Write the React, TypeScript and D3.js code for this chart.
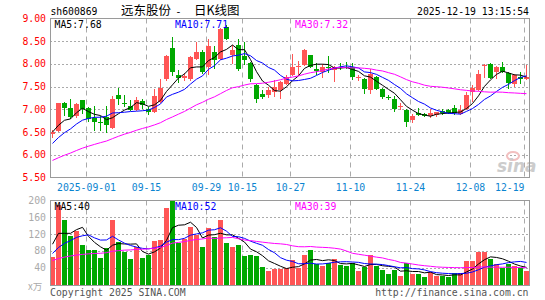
import React, { useEffect, useRef } from 'react';
import * as d3 from 'd3';

// daily k-line, 2025-08-22 .. 2025-12-19
const opens = [6.46,6.52,7.15,7.02,6.85,7.20,7.03,6.81,6.72,6.83, 6.58,7.31,7.14,7.07,6.98,7.19,7.01,6.95,7.16,7.66,
  8.35,7.75,7.68,7.66,8.11,8.26,7.93,8.27,8.11,8.81, 8.19,8.41,8.17,8.03,7.54,7.34,7.31,7.38,7.42,7.56,
  7.76,7.94,7.98,8.19,7.89,7.82,7.94,7.86,7.94,7.94, 7.93,7.69,7.67,7.42,7.71,7.44,7.28,7.22,7.05,6.98,
  6.76,6.93,6.90,6.85,6.88,6.96,6.98,7.03,6.90,7.01, 7.38,7.42,7.95,8.00,7.82,7.93,7.81,7.56,7.71,7.67];
const highs = [6.55,7.15,7.16,7.22,7.14,7.21,7.05,7.07,6.85,7.07, 7.29,7.47,7.31,7.20,7.28,7.22,7.06,7.45,7.67,8.20,
  8.60,7.86,7.80,8.18,8.48,8.30,8.55,8.39,8.78,8.86, 8.41,8.54,8.48,8.05,7.56,7.42,7.49,7.64,7.62,7.75,
  8.22,8.07,8.33,8.20,8.03,8.00,8.17,7.95,8.02,8.05, 8.03,7.76,7.69,7.89,7.73,7.46,7.31,7.29,7.15,7.00,
  6.90,7.03,6.92,7.01,6.95,7.01,7.00,7.10,7.10,7.38, 7.53,7.86,8.00,8.01,7.95,8.04,7.82,7.78,7.82,7.97];
const lows = [6.36,6.50,6.85,6.79,6.82,6.90,6.72,6.52,6.52,6.47, 6.56,7.09,7.05,6.97,6.96,7.01,6.87,6.92,7.14,7.62,
  7.74,7.59,7.62,7.62,8.08,7.78,7.75,7.89,8.08,8.52, 8.00,7.85,7.98,7.60,7.15,7.22,7.25,7.27,7.23,7.54,
  7.74,7.75,7.96,7.91,7.75,7.68,7.79,7.60,7.86,7.88, 7.64,7.63,7.34,7.34,7.42,7.23,7.20,6.94,6.98,6.61,
  6.71,6.85,6.84,6.80,6.83,6.87,6.90,6.87,6.87,6.99, 7.16,7.40,7.69,7.67,7.67,7.80,7.45,7.49,7.56,7.65];
const closes = [6.51,7.15,7.02,6.83,7.12,7.00,6.78,6.72,6.70,6.66, 7.22,7.22,7.12,6.98,7.20,7.09,6.94,7.29,7.47,8.18,
  7.82,7.69,7.74,8.15,8.27,7.82,8.39,8.08,8.76,8.55, 8.30,7.88,8.08,7.67,7.22,7.27,7.42,7.49,7.60,7.71,
  7.93,7.96,8.31,7.93,7.84,7.93,7.92,7.93,7.92,7.91, 7.71,7.71,7.44,7.78,7.45,7.27,7.26,7.01,7.07,6.72,
  6.85,6.88,6.86,6.93,6.94,6.93,6.93,6.93,6.98,7.32, 7.48,7.78,7.97,7.69,7.93,7.83,7.59,7.76,7.66,7.71];
// volume in 万 shares
const volumes = [66,190,154,116,128,94,82,82,63,87, 154,102,77,61,90,63,71,104,106,182,
  215,100,109,137,119,89,135,114,154,100, 89,94,69,70,68,42,33,37,37,40,
  58,40,70,82,48,44,50,61,46,44, 50,32,42,70,45,34,25,34,20,50,
  25,25,18,29,20,21,18,27,27,56, 56,78,78,61,49,40,49,44,38,32];

// 29 sessions before the window, only used so the averages start at the left edge
const prevCloses = [5.35,5.38,5.40,5.42,5.45,5.50,5.52,5.55,5.60,5.62,5.68,5.72,5.78,5.82,5.88,5.92,5.98,6.02,6.08,6.10,
  5.85,5.95,6.00,6.05,6.15, 6.40,6.47,6.68,6.44];
const prevVolumes = [45,52,38,60,47,42,55,50,44,48,62,40,46,53,49,44,51,58,43,43,
  48,55,50,52,55, 60,154,116,84];

const maPeriods = [5, 10, 30];
const maColors = ['#000000', '#0000ff', '#ff00ff'];
const priceLegend = ['MA5:7.68', 'MA10:7.71', 'MA30:7.32'];
const volLegend = ['MA5:40', 'MA10:52', 'MA30:39'];

const priceTicks = [5.5, 6.0, 6.5, 7.0, 7.5, 8.0, 8.5, 9.0];
const volTicks = [40, 80, 120, 160, 200];
const tickIdx = [6, 16, 26, 32, 40, 50, 60, 70, 79];
const tickText = ['2025-09-01', '09-15', '09-29', '10-15', '10-27', '11-10', '11-24', '12-08', '12-19'];

const stockCode = 'sh600869';
const stockName = '远东股份';
const chartName = '日K线图';
const stamp = '2025-12-19 13:15:54';

const RED = '#ff5555';
const GREEN = '#00a800';
const GRID = '#aaaaaa';
const FRAME = '#9a9a9a';
const MONO = '"DejaVu Sans Mono", monospace';

function movingAvg(prev: number[], vals: number[], n: number) {
  const all = prev.concat(vals);
  const off = prev.length;
  return vals.map((_, i) => d3.mean(all.slice(off + i - n + 1, off + i + 1)) as number);
}

export default function App() {
  const ref = useRef<SVGSVGElement>(null);

  useEffect(() => {
    const svg = d3.select(ref.current);
    svg.selectAll('*').remove();

    const L = 50, R = 530;
    const pTop = 18.5, pBot = 177.5;
    const vTop = 200.5, vBot = 285.5;

    const x = d3.scaleLinear().domain([0, closes.length]).range([L, R]);
    const yP = d3.scaleLinear().domain([5.5, 9]).range([pBot, pTop]);
    const yV = d3.scaleLinear().domain([0, 200]).range([284.4, 200.7]);
    const crisp = (v: number) => Math.round(v) + 0.5;

    svg.append('rect').attr('width', 545).attr('height', 300).attr('fill', '#fff');

    const defs = svg.append('defs');
    defs.append('clipPath').attr('id', 'clipP')
      .append('rect').attr('x', L).attr('y', pTop).attr('width', R - L).attr('height', pBot - pTop);
    defs.append('clipPath').attr('id', 'clipV')
      .append('rect').attr('x', L).attr('y', vTop).attr('width', R - L).attr('height', vBot - vTop);

    // header
    const head = svg.append('g').attr('font-size', 10.5).attr('fill', '#000');
    head.append('text').attr('x', 50.5).attr('y', 14.5).attr('font-family', MONO)
      .attr('textLength', 47).attr('lengthAdjust', 'spacingAndGlyphs').text(stockCode);
    head.append('text').attr('x', 121).attr('y', 15).attr('font-family', '"Noto Sans CJK SC"')
      .attr('font-size', 12.5).text(stockName);
    head.append('text').attr('x', 178.5).attr('y', 14.5).attr('text-anchor', 'middle')
      .attr('font-family', MONO).text('-');
    head.append('text').attr('x', 194).attr('y', 15).attr('font-family', '"Noto Sans CJK SC"')
      .attr('font-size', 12.5).text(chartName);
    head.append('text').attr('x', 529).attr('y', 14.5).attr('text-anchor', 'end').attr('font-family', MONO)
      .attr('textLength', 112).attr('lengthAdjust', 'spacingAndGlyphs').text(stamp);

    // grids
    const grid = svg.append('g').attr('stroke', GRID).attr('fill', 'none');
    priceTicks.slice(1, -1).forEach(v => {
      grid.append('line').attr('x1', L).attr('x2', R).attr('y1', crisp(yP(v))).attr('y2', crisp(yP(v)))
        .attr('stroke-dasharray', '2,2');
    });
    volTicks.slice(0, -1).forEach(v => {
      grid.append('line').attr('x1', L).attr('x2', R).attr('y1', crisp(yV(v))).attr('y2', crisp(yV(v)))
        .attr('stroke-dasharray', '2,2');
    });
    tickIdx.forEach(i => {
      const gx = x(i) + 0.5;
      grid.append('line').attr('x1', gx).attr('x2', gx).attr('y1', pTop).attr('y2', pBot)
        .attr('stroke-dasharray', '5,4');
      grid.append('line').attr('x1', gx).attr('x2', gx).attr('y1', vTop).attr('y2', vBot)
        .attr('stroke-dasharray', '5,4');
    });

    // sina watermark
    const wm = svg.append('g');
    wm.append('ellipse').attr('cx', 513).attr('cy', 156).attr('rx', 6).attr('ry', 4)
      .attr('fill', 'none').attr('stroke', '#f2c0c0').attr('stroke-width', 2);
    wm.append('text').attr('x', 497).attr('y', 172).attr('font-family', '"DejaVu Sans"')
      .attr('font-style', 'italic').attr('font-weight', 'bold').attr('font-size', 17)
      .attr('fill', '#cccccc').text('sina');

    const idx = d3.range(closes.length);
    const up = (i: number) => closes[i] >= opens[i];

    // candles
    const cg = svg.append('g').attr('clip-path', 'url(#clipP)');
    cg.selectAll('line.wick').data(idx).enter().append('line')
      .attr('x1', i => x(i) + 2.5).attr('x2', i => x(i) + 2.5)
      .attr('y1', i => Math.round(yP(highs[i]))).attr('y2', i => Math.round(yP(lows[i])))
      .attr('stroke', i => up(i) ? RED : GREEN);
    cg.selectAll('rect.body').data(idx).enter().append('rect')
      .attr('x', i => x(i))
      .attr('y', i => Math.round(yP(Math.max(opens[i], closes[i]))))
      .attr('width', 5)
      .attr('height', i => Math.max(1, Math.round(yP(Math.min(opens[i], closes[i]))) - Math.round(yP(Math.max(opens[i], closes[i])))))
      .attr('fill', i => up(i) ? RED : GREEN);

    // volume bars
    const vg = svg.append('g').attr('clip-path', 'url(#clipV)');
    vg.selectAll('rect').data(idx).enter().append('rect')
      .attr('x', i => x(i))
      .attr('y', i => Math.round(yV(volumes[i])))
      .attr('width', 5)
      .attr('height', i => vBot + 0.5 - Math.round(yV(volumes[i])))
      .attr('fill', i => up(i) ? RED : GREEN);

    // moving averages
    maPeriods.forEach((n, k) => {
      const pm = movingAvg(prevCloses, closes, n);
      const vm = movingAvg(prevVolumes, volumes, n);
      cg.append('path').datum(pm)
        .attr('d', d3.line<number>().x((_, i) => x(i) + 2.5).y(d => yP(d)))
        .attr('fill', 'none').attr('stroke', maColors[k]).attr('stroke-width', 1);
      vg.append('path').datum(vm)
        .attr('d', d3.line<number>().x((_, i) => x(i) + 2.5).y(d => yV(d)))
        .attr('fill', 'none').attr('stroke', maColors[k]).attr('stroke-width', 1);
    });

    // frames
    svg.append('rect').attr('x', L + 0.5).attr('y', pTop).attr('width', R - L - 1).attr('height', pBot - pTop)
      .attr('fill', 'none').attr('stroke', FRAME);
    svg.append('rect').attr('x', L + 0.5).attr('y', vTop).attr('width', R - L - 1).attr('height', vBot - vTop)
      .attr('fill', 'none').attr('stroke', FRAME);

    // legends
    const legX = [54.5, 175, 295];
    const lg = svg.append('g').attr('font-family', MONO).attr('font-size', 9.8);
    priceLegend.forEach((t, k) => {
      lg.append('text').attr('x', legX[k]).attr('y', 27.5).attr('fill', maColors[k]).text(t);
    });
    volLegend.forEach((t, k) => {
      lg.append('text').attr('x', legX[k]).attr('y', 209.5).attr('fill', maColors[k]).text(t);
    });

    // axis labels
    const ax = svg.append('g').attr('font-family', MONO).attr('font-size', 9.8);
    priceTicks.forEach(v => {
      ax.append('text').attr('x', 46).attr('y', yP(v) + 3.5).attr('text-anchor', 'end')
        .attr('fill', '#ff0000').text(v.toFixed(2));
    });
    volTicks.forEach(v => {
      ax.append('text').attr('x', 46).attr('y', yV(v) + 3.5).attr('text-anchor', 'end')
        .attr('fill', '#aaaaaa').text(v);
    });
    ax.append('text').attr('x', 28).attr('y', 290).attr('fill', '#aaaaaa').attr('font-size', 9.5)
      .attr('font-family', '"Noto Sans CJK SC"').text('x万');
    tickIdx.forEach((i, k) => {
      const gx = x(i) + 0.5;
      const w = tickText[k].length * 5.9;
      const t = ax.append('text').attr('y', 190.5).attr('fill', '#0a84d0').text(tickText[k]);
      if (gx + w / 2 > R) t.attr('x', gx).attr('text-anchor', 'end');
      else t.attr('x', gx).attr('text-anchor', 'middle');
    });

    // footer
    ax.append('text').attr('x', 50).attr('y', 295.5).attr('fill', '#555').text('Copyright 2025 SINA.COM');
    ax.append('text').attr('x', 528.5).attr('y', 295.5).attr('text-anchor', 'end').attr('fill', '#555')
      .text('http://finance.sina.com.cn');
  }, []);

  return (
    <div style={{ position: 'absolute', left: 0, top: 0 }}>
      <svg ref={ref} width={545} height={300} style={{ display: 'block' }} />
    </div>
  );
}
